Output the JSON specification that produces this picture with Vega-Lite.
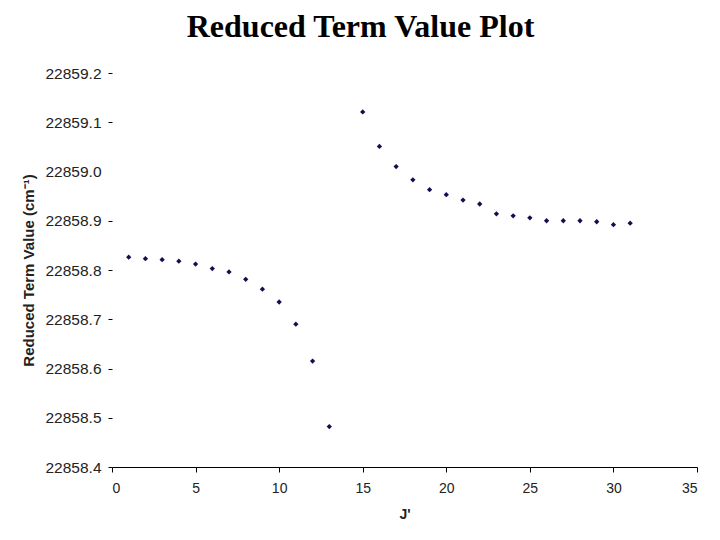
{
  "$schema": "https://vega.github.io/schema/vega-lite/v6.json",
  "autosize": "none",
  "width": 585,
  "height": 394,
  "padding": {"left": 112, "top": 73, "right": 23, "bottom": 73},
  "background": "white",
  "title": {
    "text": "Reduced Term Value Plot",
    "font": "Liberation Serif",
    "fontSize": 32,
    "fontWeight": "bold",
    "color": "black",
    "anchor": "middle",
    "frame": "group",
    "offset": 22,
    "dx": -44
  },
  "config": {"view": {"stroke": null}},
  "data": {
    "values": [
      {"J": 1, "T": 22858.826},
      {"J": 2, "T": 22858.823},
      {"J": 3, "T": 22858.821},
      {"J": 4, "T": 22858.818},
      {"J": 5, "T": 22858.812},
      {"J": 6, "T": 22858.803},
      {"J": 7, "T": 22858.796},
      {"J": 8, "T": 22858.781},
      {"J": 9, "T": 22858.761},
      {"J": 10, "T": 22858.735},
      {"J": 11, "T": 22858.690},
      {"J": 12, "T": 22858.615},
      {"J": 13, "T": 22858.482},
      {"J": 15, "T": 22859.121},
      {"J": 16, "T": 22859.051},
      {"J": 17, "T": 22859.010},
      {"J": 18, "T": 22858.983},
      {"J": 19, "T": 22858.963},
      {"J": 20, "T": 22858.953},
      {"J": 21, "T": 22858.942},
      {"J": 22, "T": 22858.934},
      {"J": 23, "T": 22858.914},
      {"J": 24, "T": 22858.910},
      {"J": 25, "T": 22858.906},
      {"J": 26, "T": 22858.900},
      {"J": 27, "T": 22858.900},
      {"J": 28, "T": 22858.900},
      {"J": 29, "T": 22858.898},
      {"J": 30, "T": 22858.892},
      {"J": 31, "T": 22858.895}
    ]
  },
  "mark": {"type": "point", "shape": "diamond", "filled": true, "size": 28, "color": "#101050", "opacity": 1},
  "encoding": {
    "x": {
      "field": "J",
      "type": "quantitative",
      "scale": {"domain": [0, 35], "nice": false},
      "axis": {
        "title": "J'",
        "values": [0, 5, 10, 15, 20, 25, 30, 35],
        "grid": false,
        "domainColor": "black",
        "tickColor": "black",
        "tickSize": 5,
        "labelFont": "Liberation Sans",
        "labelFontSize": 14,
        "labelColor": "#222222",
        "labelPadding": 9,
        "titleFont": "Liberation Sans",
        "titleFontSize": 14,
        "titleFontWeight": "bold",
        "titleColor": "#222222",
        "titlePadding": 12
      }
    },
    "y": {
      "field": "T",
      "type": "quantitative",
      "scale": {"domain": [22858.4, 22859.2], "nice": false, "zero": false},
      "axis": {
        "title": "Reduced Term Value (cm⁻¹)",
        "values": [22858.4, 22858.5, 22858.6, 22858.7, 22858.8, 22858.9, 22859.0, 22859.1, 22859.2],
        "format": ".1f",
        "grid": false,
        "domain": false,
        "tickColor": {"condition": {"test": "abs(datum.value - 22859) < 0.001", "value": "transparent"}, "value": "black"},
        "tickSize": 4,
        "labelFont": "Liberation Sans",
        "labelFontSize": 15.5,
        "labelColor": "#222222",
        "labelPadding": 7,
        "titleFont": "Liberation Sans",
        "titleFontSize": 15,
        "titleFontWeight": "bold",
        "titleColor": "#222222",
        "titlePadding": 8
      }
    }
  }
}
